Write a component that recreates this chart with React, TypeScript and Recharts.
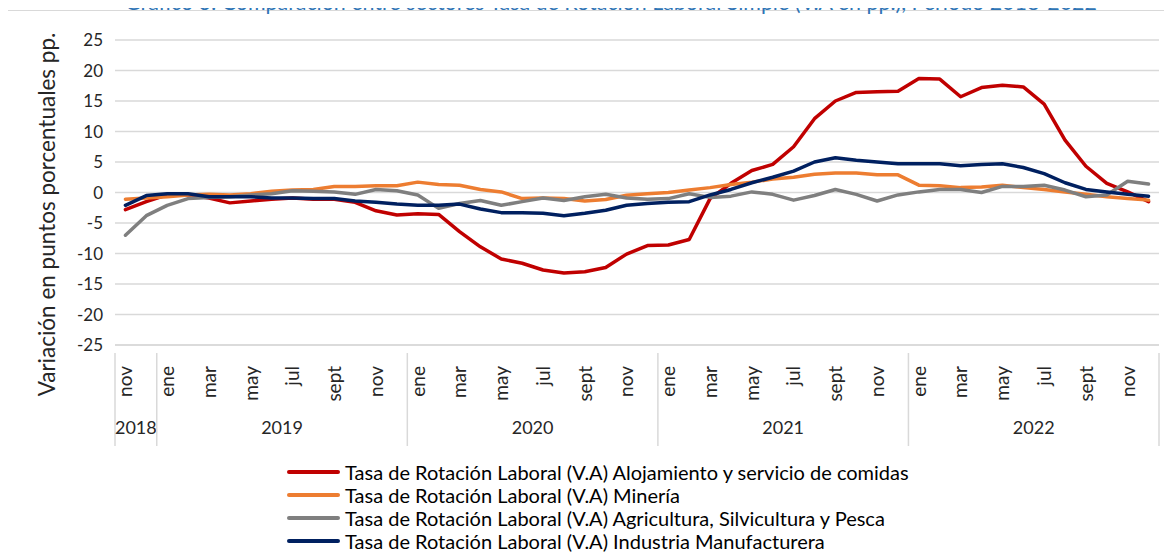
import React from "react";
import { LineChart, Line, XAxis, YAxis, CartesianGrid, Legend } from "recharts";

const years = ["2018", "2019", "2020", "2021", "2022"];
const monthsByYear: string[][] = [
  ["nov", "dic"],
  ["ene", "feb", "mar", "abr", "may", "jun", "jul", "ago", "sept", "oct", "nov", "dic"],
  ["ene", "feb", "mar", "abr", "may", "jun", "jul", "ago", "sept", "oct", "nov", "dic"],
  ["ene", "feb", "mar", "abr", "may", "jun", "jul", "ago", "sept", "oct", "nov", "dic"],
  ["ene", "feb", "mar", "abr", "may", "jun", "jul", "ago", "sept", "oct", "nov", "dic"],
];

const alojamiento = [
  -2.8, -1.5, -0.4, -0.4, -0.9, -1.7, -1.4, -1.1, -0.9, -1.1, -1.1, -1.6, -3.0, -3.7,
  -3.5, -3.6, -6.4, -8.9, -10.9, -11.6, -12.7, -13.2, -13.0, -12.3, -10.1, -8.7,
  -8.6, -7.7, -1.0, 1.5, 3.6, 4.6, 7.5, 12.1, 15.0, 16.4, 16.5, 16.6, 18.7, 18.6,
  15.7, 17.2, 17.6, 17.3, 14.5, 8.6, 4.3, 1.5, 0.1, -1.5,
];
const mineria = [
  -1.1, -0.9, -0.7, -0.4, -0.3, -0.4, -0.2, 0.2, 0.4, 0.5, 1.0, 1.0, 1.1, 1.1,
  1.7, 1.3, 1.2, 0.5, 0.1, -1.0, -0.9, -1.0, -1.4, -1.15, -0.45, -0.2,
  0.0, 0.4, 0.8, 1.3, 1.7, 2.2, 2.5, 3.0, 3.2, 3.2, 2.9, 2.9, 1.2, 1.1,
  0.8, 0.9, 1.2, 0.8, 0.5, 0.1, -0.3, -0.7, -1.0, -1.25,
];
const agricultura = [
  -7.0, -3.8, -2.1, -1.0, -0.8, -0.7, -0.4, -0.2, 0.3, 0.2, 0.1, -0.3, 0.5, 0.3,
  -0.4, -2.6, -1.8, -1.3, -2.1, -1.5, -0.9, -1.3, -0.7, -0.3, -0.9, -1.1,
  -1.0, -0.2, -0.8, -0.6, 0.1, -0.3, -1.25, -0.5, 0.5, -0.3, -1.4, -0.4, 0.1, 0.5,
  0.5, 0.0, 1.0, 1.0, 1.2, 0.4, -0.7, -0.4, 1.85, 1.4,
];
const industria = [
  -2.1, -0.5, -0.2, -0.2, -0.7, -0.7, -0.7, -0.9, -0.9, -1.0, -1.0, -1.4, -1.6, -1.9,
  -2.1, -2.1, -1.9, -2.7, -3.3, -3.3, -3.4, -3.8, -3.4, -2.9, -2.1, -1.8,
  -1.6, -1.5, -0.4, 0.5, 1.6, 2.5, 3.5, 5.0, 5.7, 5.3, 5.0, 4.7, 4.7, 4.7,
  4.4, 4.6, 4.7, 4.1, 3.1, 1.6, 0.5, 0.1, -0.3, -0.6,
];
const yTicks = [25, 20, 15, 10, 5, 0, -5, -10, -15, -20, -25];
const shownMonths = ["nov", "ene", "mar", "may", "jul", "sept"];

const seriesNames = [
  "Tasa de Rotación Laboral (V.A) Alojamiento y servicio de comidas",
  "Tasa de Rotación Laboral (V.A) Minería",
  "Tasa de Rotación Laboral (V.A) Agricultura, Silvicultura y Pesca",
  "Tasa de Rotación Laboral (V.A) Industria Manufacturera",
];
const seriesColors = ["#C00000", "#ED7D31", "#7F7F7F", "#002060"];
const seriesKeys = ["alo", "min", "agr", "ind"];
const seriesValues = [alojamiento, mineria, agricultura, industria];

const title =
  "Gráfico 3: Comparación entre sectores Tasa de Rotación Laboral Simple (V.A en pp.), Periodo 2018-2022";

type Cat = { month: string; year: string; pos: number; len: number };
const categories: Cat[] = [];
years.forEach((y, yi) => {
  monthsByYear[yi].forEach((m, pi) => {
    categories.push({ month: m, year: y, pos: pi, len: monthsByYear[yi].length });
  });
});

const data = categories.map((c, i) => {
  const row: Record<string, any> = { cat: `${c.month}-${c.year}-${i}` };
  seriesKeys.forEach((k, si) => {
    row[k] = seriesValues[si][i];
  });
  return row;
});

const AXIS_GRAY = "#D9D9D9";
const TEXT = "#262626";
const LEGEND_ROW = 23;
const LEGEND_H = 94;
const EXTRA_BOTTOM = 8;

const CategoryTick = (props: any) => {
  const { x, y, payload, width, visibleTicksCount } = props;
  const i: number = payload.index;
  const c = categories[i];
  if (!c) return null;
  let half = payload.offset;
  if (!half || half <= 0) half = width / (visibleTicksCount || categories.length) / 2;
  const els: React.ReactNode[] = [];
  if (i % 2 === 0 && shownMonths.includes(c.month)) {
    els.push(
      <text
        key="m"
        x={x}
        y={y + 13}
        dy="0.36em"
        transform={`rotate(-90, ${x}, ${y + 13})`}
        textAnchor="end"
        fontSize={19}
        fill={TEXT}
      >
        {c.month}
      </text>
    );
  }
  if (c.pos === 0) {
    els.push(<line key="s" x1={x - half} x2={x - half} y1={y} y2={y + 93} stroke={AXIS_GRAY} strokeWidth={1.5} />);
  }
  if (i === categories.length - 1) {
    els.push(<line key="e" x1={x + half} x2={x + half} y1={y} y2={y + 93} stroke={AXIS_GRAY} strokeWidth={1.5} />);
  }
  if (c.pos === c.len / 2 - 1) {
    els.push(
      <text key="y" x={x + half} y={y + 75} dy="0.36em" textAnchor="middle" fontSize={18} fill={TEXT}>
        {c.year}
      </text>
    );
  }
  return <g>{els}</g>;
};

const YTitle = (props: any) => {
  const vb = props.viewBox || { x: 0, y: 32, width: 107, height: 305 };
  const cx = vb.x + 47;
  const cy = vb.y + vb.height / 2 + 22;
  return (
    <text x={cx} y={cy} transform={`rotate(-90, ${cx}, ${cy})`} textAnchor="middle" fontSize={22.5} fill={TEXT}>
      Variación en puntos porcentuales pp.
    </text>
  );
};

const LegendContent = (props: any) => {
  const payload: any[] = [...(props.payload || [])].sort(
    (a: any, b: any) => seriesNames.indexOf(a.value) - seriesNames.indexOf(b.value)
  );
  return (
    <div style={{ height: LEGEND_H }}>
      {payload.map((p: any, idx: number) => (
        <div key={idx} style={{ display: "flex", alignItems: "center", height: LEGEND_ROW }}>
          <span
            style={{
              display: "inline-block",
              width: 53,
              height: 4,
              borderRadius: 2,
              background: p.color,
              marginRight: 5,
            }}
          />
          <span style={{ fontSize: 20, color: "#000", whiteSpace: "nowrap", lineHeight: `${LEGEND_ROW}px` }}>
            {p.value}
          </span>
        </div>
      ))}
    </div>
  );
};

export default function App() {
  return (
    <div
      style={{
        position: "relative",
        width: 1156,
        height: 541 + EXTRA_BOTTOM,
        fontFamily: "Lato, 'Open Sans', sans-serif",
      }}
    >
      <div
        style={{
          position: "absolute",
          left: -1,
          top: 2,
          width: 1157,
          height: 541 + EXTRA_BOTTOM - 2,
          borderLeft: `1px solid ${AXIS_GRAY}`,
          borderTop: `1px solid ${AXIS_GRAY}`,
          boxSizing: "border-box",
        }}
      />
      <div
        style={{
          position: "absolute",
          left: 0,
          width: 1156,
          paddingLeft: 50,
          boxSizing: "border-box",
          top: -16,
          textAlign: "center",
          fontSize: 21.4,
          lineHeight: "21px",
          color: "#2E74B5",
          whiteSpace: "nowrap",
        }}
      >
        {title}
      </div>
      <LineChart
        width={1156}
        height={541 + EXTRA_BOTTOM}
        data={data}
        margin={{ top: 32, right: 5, bottom: EXTRA_BOTTOM, left: 0 }}
      >
        <CartesianGrid vertical={false} stroke={AXIS_GRAY} strokeWidth={1.5} />
        <XAxis
          dataKey="cat"
          scale="band"
          interval={0}
          height={204 - LEGEND_H}
          axisLine={{ stroke: AXIS_GRAY, strokeWidth: 1.5 }}
          tickLine={false}
          tick={<CategoryTick />}
        />
        <YAxis
          domain={[-25, 25]}
          ticks={yTicks}
          width={107}
          axisLine={false}
          tickLine={false}
          tickSize={0}
          tickMargin={12}
          interval={0}
          tick={{ fill: TEXT, fontSize: 17 }}
          label={<YTitle />}
        />
        <Legend
          layout="vertical"
          align="center"
          verticalAlign="bottom"
          content={<LegendContent />}
          wrapperStyle={{ position: "absolute", left: 279, top: 452.5, width: "auto", bottom: "auto" }}
        />
        {seriesKeys.map((k, si) => (
          <Line
            key={k}
            type="linear"
            dataKey={k}
            name={seriesNames[si]}
            stroke={seriesColors[si]}
            strokeWidth={3.5}
            strokeLinejoin="round"
            strokeLinecap="round"
            dot={false}
            activeDot={false}
            isAnimationActive={false}
          />
        ))}
      </LineChart>
    </div>
  );
}
